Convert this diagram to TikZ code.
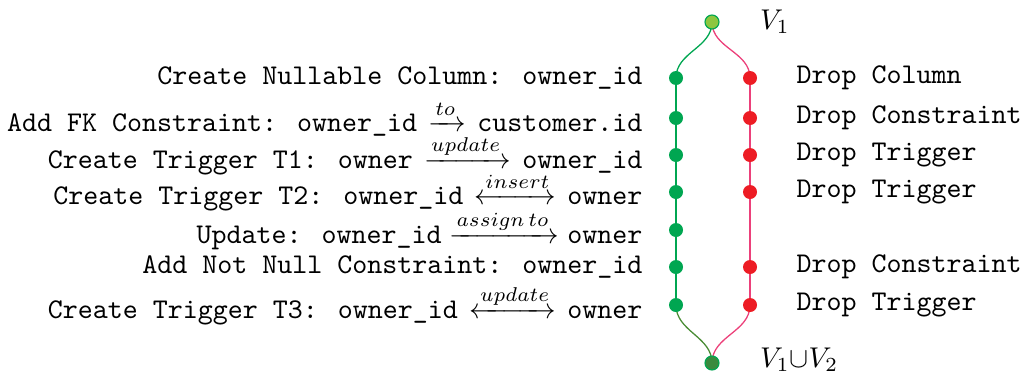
\documentclass[tikz,border=0pt]{standalone}
\usepackage{mathtools}
\definecolor{gdot}{HTML}{00A651}
\definecolor{rdot}{HTML}{ED1C24}
\definecolor{rline}{HTML}{EC407A}
\definecolor{topfill}{HTML}{8DC63F}
\definecolor{botfill}{HTML}{3A8A3E}
\definecolor{botcurve}{HTML}{4A8C35}
\newcommand{\tto}[1]{\texttt{#1}}
\newcommand{\rsp}{\mkern2mu}
\tikzset{
  dot/.style={circle, inner sep=0pt, minimum size=4.9pt},
  gnode/.style={dot, fill=gdot},
  rnode/.style={dot, fill=rdot},
  endnode/.style={dot, draw=gdot, line width=0.4pt},
  opleft/.style={anchor=east, inner sep=0pt, font=\ttfamily},
  opright/.style={anchor=west, inner sep=0pt, font=\ttfamily},
  gline/.style={draw=gdot, line width=0.45pt},
  rline/.style={draw=rline, line width=0.45pt},
}
\begin{document}
\begin{tikzpicture}[x=0.35pt, y=-0.35pt]
\useasboundingbox (0,0) rectangle (1036,377);

% node positions (drawn after the paths)
\coordinate (top) at (712,22);
\coordinate (bot) at (712,363);
\foreach \i/\y in {1/78,2/118,3/155,4/192,5/230,6/267,7/305}
  \coordinate (g\i) at (676,\y);
\foreach \i/\y in {1/78,2/118,3/155,4/192,6/267,7/305}
  \coordinate (r\i) at (750,\y);

% connecting paths
\draw[gline] (top) to[out=-90,in=90] (g1);
\draw[gline] (g1) -- (g2) -- (g3) -- (g4) -- (g5) -- (g6) -- (g7);
\draw[draw=botcurve, line width=0.45pt] (g7) to[out=-90,in=90] (bot);
\draw[rline] (top) to[out=-90,in=90] (r1);
\draw[rline] (r1) -- (r2) -- (r3) -- (r4) -- (r6) -- (r7);
\draw[rline] (r7) to[out=-90,in=90] (bot);

% dots
\foreach \n in {g1,g2,g3,g4,g5,g6,g7} \node[gnode] (n\n) at (\n) {};
\foreach \n in {r1,r2,r3,r4,r6,r7} \node[rnode] (n\n) at (\n) {};
\node[endnode, fill=topfill] (v1) at (top) {};
\node[endnode, fill=botfill] (v12) at (bot) {};

% version labels
\node[anchor=west] (lv1) at (750,22) {$V_1$};
\node[anchor=west] (lv12) at (750,360) {$V_1{\cup}V_2$};

% forward labels
\node[opleft] (l1) at (643,78) {Create Nullable Column: owner\_id};
\node[opleft] (l2) at (643,118) {$\tto{Add FK Constraint: owner\_id}\rsp\xrightarrow{to}\rsp\tto{customer.id}$};
\node[opleft] (l3) at (643,155) {$\tto{Create Trigger T1: owner}\rsp\xrightarrow{update}\rsp\tto{owner\_id}$};
\node[opleft] (l4) at (643,192) {$\tto{Create Trigger T2: owner\_id}\rsp\xleftrightarrow{insert}\rsp\tto{owner}$};
\node[opleft] (l5) at (643,230) {$\tto{Update: owner\_id}\xrightarrow{assign\,to}\tto{owner}$};
\node[opleft] (l6) at (643,267) {Add Not Null Constraint: owner\_id};
\node[opleft] (l7) at (643,305) {$\tto{Create Trigger T3: owner\_id}\rsp\xleftrightarrow{update}\rsp\tto{owner}$};

% rollback labels
\node[opright] (d1) at (796,78) {Drop Column};
\node[opright] (d2) at (796,118) {Drop Constraint};
\node[opright] (d3) at (796,155) {Drop Trigger};
\node[opright] (d4) at (796,192) {Drop Trigger};
\node[opright] (d6) at (796,267) {Drop Constraint};
\node[opright] (d7) at (796,305) {Drop Trigger};
\end{tikzpicture}
\end{document}
